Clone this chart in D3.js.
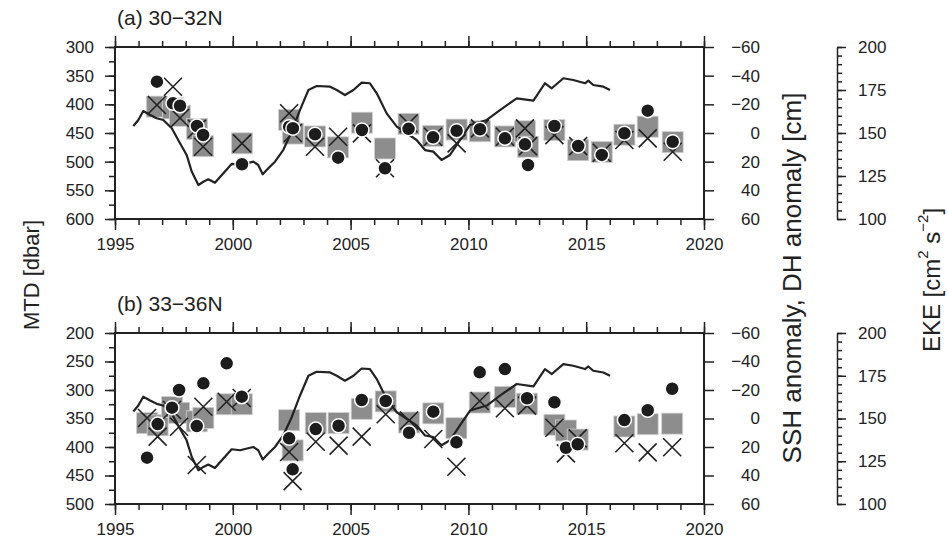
<!DOCTYPE html>
<html>
<head>
<meta charset="utf-8">
<script src="https://cdn.jsdelivr.net/npm/d3@7"></script>
<style>
body { margin: 0; background: #fff; }
svg { font-family: "Liberation Sans", Arial, sans-serif; }
.axis text { font-size: 17px; fill: #222; }
.axis line, .axis path { stroke: #222; stroke-width: 1.5; }
</style>
</head>
<body>
<div id="chart"></div>
<script>
// SSH anomaly curve (same record drawn in both panels)
var sshYears = [1995.78, 1995.99, 1996.20, 1996.49, 1996.77, 1997.05, 1997.41, 1997.76, 1998.04, 1998.26,
    1998.54, 1998.75, 1998.96, 1999.24, 1999.60, 1999.95, 2000.31, 2000.87, 2001.08, 2001.27,
    2001.51, 2001.79, 2002.14, 2002.50, 2002.85, 2003.21, 2003.56, 2004.13, 2004.41, 2004.76,
    2005.12, 2005.47, 2005.82, 2006.11, 2006.53, 2006.96, 2007.38, 2007.80, 2008.16, 2008.51,
    2008.86, 2009.22, 2009.64, 2010.07, 2010.78, 2011.34, 2012.05, 2012.76, 2013.25, 2013.54,
    2014.03, 2014.45, 2014.95, 2015.09, 2015.30, 2015.73, 2016.01];
var sshValues = [-4.9, -9.1, -15.3, -12.6, -10.3, -9.1, -3.3, 7.2, 15.3, 27.0,
    36.3, 34.0, 32.3, 34.7, 28.1, 21.6, 22.3, 20.0, 22.3, 28.8,
    24.6, 20.0, 11.9, -0.9, -16.0, -30.0, -32.8, -32.3, -30.0, -26.5,
    -30.0, -35.1, -34.7, -27.7, -13.7, -4.4, 0.2, 4.9, 11.9, 13.0,
    18.8, 15.3, 4.9, -5.6, -9.1, -16.0, -24.2, -22.6, -34.7, -31.2,
    -38.2, -37.0, -34.7, -36.5, -33.5, -32.3, -30.0];

// panel (a) 30-32N
var yearsA = [1996.78, 1997.46, 1997.76, 1998.48, 1998.74, 2000.39, 2002.39, 2002.55, 2003.49, 2004.47,
    2005.48, 2006.46, 2007.46, 2008.50, 2009.50, 2010.49, 2011.55, 2012.40, 2012.53, 2013.65,
    2014.66, 2015.66, 2016.62, 2017.61, 2018.67];
var mtdA = [404, 407, 420, 443, 473, 468, 427, 451, 456, 475,
    432, 477, 434, 455, 444, 447, 456, 447, 474, 445,
    480, 483, 453, 439, 466];
var dhA = [-35.8, -20.7, -19.0, -4.9, 1.4, 21.8, -4.4, -3.3, 0.9, 17.2,
    -2.1, 24.6, -2.9, 3.0, -1.6, -2.6, 3.7, 7.9, 22.3, -4.9,
    9.1, 15.3, 0.2, -15.6, 6.1];
var ekeA = [166.3, 176.9, 158.7, 152.5, 142.0, 144.0, 161.5, 150.0, 142.0, 147.8,
    149.8, 129.5, 155.5, 147.8, 144.0, 152.7, 147.8, 152.7, 142.4, 148.8,
    142.4, 138.5, 145.9, 146.9, 139.1];

// panel (b) 33-36N
var yearsB = [1996.36, 1996.81, 1997.42, 1997.72, 1998.47, 1998.75, 1999.74, 2000.38, 2002.39, 2002.54,
    2003.52, 2004.49, 2005.47, 2006.49, 2007.48, 2008.51, 2009.49, 2010.48, 2011.55, 2012.49,
    2013.65, 2014.14, 2014.64, 2016.62, 2017.61, 2018.65];
var mtdB = [358, 362, 330, 340, 355, 349, 325, 325, 353, 406,
    358, 358, 333, 320, 357, 341, 367, 322, 312, 324,
    361, 371, 387, 364, 360, 359];
var dhB = [27.5, 3.9, -7.6, -20.0, 5.3, -24.7, -38.7, -15.3, 13.9, 35.7,
    7.4, 5.1, -13.0, -12.3, 10.0, -4.8, 16.7, -32.4, -34.7, -14.2,
    -11.4, 20.5, 18.1, 1.1, -5.8, -20.9];
var ekeB = [150.3, 139.4, 155.0, 145.2, 122.8, 156.9, 159.8, 162.0, 130.4, 113.4,
    136.4, 134.1, 139.4, 152.5, 148.8, 138.0, 121.8, 160.2, 156.0, 157.5,
    144.6, 129.6, 138.4, 135.5, 130.2, 133.2];

var panels = [
    {title: "(a) 30\u221232N", top: 47, bottom: 219, mtd: [300, 600], titleY: 25,
        years: yearsA, mtdV: mtdA, dhV: dhA, ekeV: ekeA},
    {title: "(b) 33\u221236N", top: 333, bottom: 504, mtd: [200, 500], titleY: 311,
        years: yearsB, mtdV: mtdB, dhV: dhB, ekeV: ekeB}
];

var width = 948, height = 549;
var left = 115, right = 704, ekeX = 837;

var svg = d3.select("#chart").append("svg")
    .attr("width", width)
    .attr("height", height);

var x = d3.scaleLinear().domain([1995, 2020]).range([left, right]);

panels.forEach(function (p) {
    var g = svg.append("g");
    var yM = d3.scaleLinear().domain(p.mtd).range([p.top, p.bottom]);
    var yS = d3.scaleLinear().domain([-60, 60]).range([p.top, p.bottom]);
    var yE = d3.scaleLinear().domain([200, 100]).range([p.top, p.bottom]);

    //x ticks, minor every year and major every 5
    [["bottom", p.bottom], ["top", p.top]].forEach(function (s) {
        var mk = s[0] === "bottom" ? d3.axisBottom : d3.axisTop;
        g.append("g").attr("class", "axis")
            .attr("transform", "translate(0," + s[1] + ")")
            .call(mk(x).tickValues(d3.range(1995, 2021)).tickSize(6).tickFormat(""))
            .select(".domain").remove();
        g.append("g").attr("class", "axis")
            .attr("transform", "translate(0," + s[1] + ")")
            .call(mk(x).tickValues(d3.range(1995, 2021, 5)).tickSize(11).tickPadding(8)
                .tickFormat(s[0] === "bottom" ? d3.format("d") : ""))
            .select(".domain").remove();
    });

    //left MTD axis
    g.append("g").attr("class", "axis")
        .attr("transform", "translate(" + left + ",0)")
        .call(d3.axisLeft(yM).tickValues(d3.range(p.mtd[0], p.mtd[1] + 1, 25)).tickSize(6).tickFormat(""))
        .select(".domain").remove();
    g.append("g").attr("class", "axis")
        .attr("transform", "translate(" + left + ",0)")
        .call(d3.axisLeft(yM).tickValues(d3.range(p.mtd[0], p.mtd[1] + 1, 50)).tickSize(10).tickPadding(11))
        .select(".domain").remove();

    //right SSH / DH axis, labels right aligned
    var ra = g.append("g").attr("class", "axis")
        .attr("transform", "translate(" + right + ",0)")
        .call(d3.axisRight(yS).tickValues(d3.range(-60, 61, 20)).tickSize(10).tickFormat(d3.format("d")));
    ra.select(".domain").remove();
    ra.selectAll("text").attr("text-anchor", "end").attr("x", 56);

    //frame
    g.append("rect")
        .attr("x", left).attr("y", p.top)
        .attr("width", right - left).attr("height", p.bottom - p.top)
        .attr("fill", "none").attr("stroke", "#222").attr("stroke-width", 2);

    //EKE axis off to the right
    g.append("g").attr("class", "axis")
        .attr("transform", "translate(" + ekeX + ",0)")
        .call(d3.axisRight(yE).tickValues(d3.range(100, 201, 5)).tickSize(5).tickSizeOuter(0).tickFormat(""));
    g.append("g").attr("class", "axis")
        .attr("transform", "translate(" + ekeX + ",0)")
        .call(d3.axisRight(yE).tickValues(d3.range(100, 201, 25)).tickSize(9).tickPadding(12))
        .select(".domain").remove();

    g.append("text")
        .attr("x", 117).attr("y", p.titleY)
        .attr("font-size", 21).attr("fill", "#222")
        .text(p.title);

    var idx = d3.range(p.years.length);

    //grey squares (MTD)
    g.selectAll(".sq").data(idx).enter().append("rect")
        .attr("x", function (i) { return x(p.years[i]) - 10.5; })
        .attr("y", function (i) { return yM(p.mtdV[i]) - 10.5; })
        .attr("width", 21).attr("height", 21)
        .attr("fill", "#8d8d8d").attr("stroke", "#d0d0d0").attr("stroke-width", 0.8);

    //SSH line
    var line = d3.line()
        .x(function (d, i) { return x(sshYears[i]); })
        .y(function (d) { return yS(d); });
    g.append("path").datum(sshValues)
        .attr("d", line)
        .attr("fill", "none").attr("stroke", "#222").attr("stroke-width", 2.2)
        .attr("stroke-linejoin", "round");

    //crosses (EKE)
    g.selectAll(".cr").data(idx).enter().append("path")
        .attr("transform", function (i) {
            return "translate(" + x(p.years[i]) + "," + yE(p.ekeV[i]) + ")";
        })
        .attr("d", "M-9,-9L9,9M-9,9L9,-9")
        .attr("stroke", "#222").attr("stroke-width", 1.6).attr("fill", "none");

    //black dots (DH anomaly)
    g.selectAll(".dot").data(idx).enter().append("circle")
        .attr("cx", function (i) { return x(p.years[i]); })
        .attr("cy", function (i) { return yS(p.dhV[i]); })
        .attr("r", 7)
        .attr("fill", "#1c1c1c").attr("stroke", "#fff").attr("stroke-width", 1.5);
});

//axis titles
function vlabel(xp, yp, size) {
    return svg.append("text")
        .attr("transform", "translate(" + xp + "," + yp + ") rotate(-90)")
        .attr("text-anchor", "middle")
        .attr("dominant-baseline", "central")
        .attr("font-size", size).attr("fill", "#222");
}
vlabel(31, 275, 22).text("MTD [dbar]");
vlabel(792, 278, 26).text("SSH anomaly, DH anomaly [cm]");
var eke = vlabel(931, 280, 24);
eke.append("tspan").text("EKE [cm");
eke.append("tspan").attr("baseline-shift", "super").attr("font-size", 15).text("2");
eke.append("tspan").text(" s");
eke.append("tspan").attr("baseline-shift", "super").attr("font-size", 15).text("\u22122");
eke.append("tspan").text("]");
</script>
</body>
</html>
